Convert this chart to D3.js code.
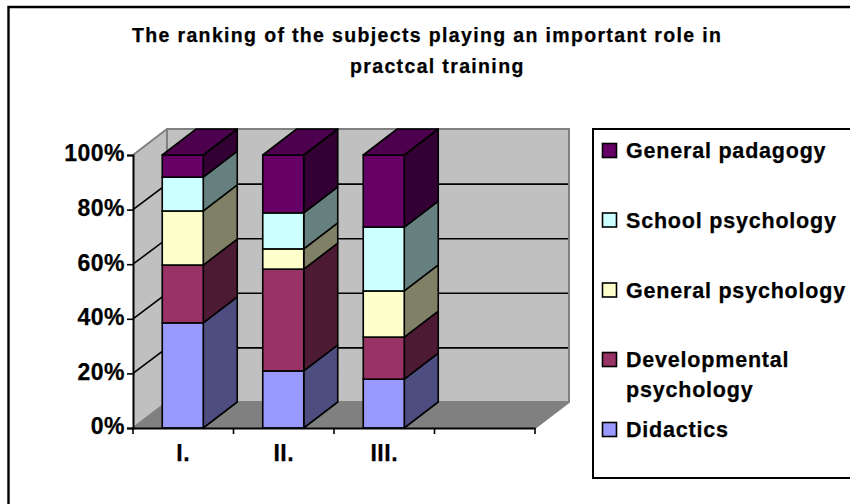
<!DOCTYPE html>
<html><head><meta charset="utf-8">
<script src="https://cdn.jsdelivr.net/npm/d3@7"></script>
<style>html,body{margin:0;padding:0;background:#fff}svg{display:block}text{font-family:"Liberation Sans",Arial,sans-serif;font-weight:bold;fill:#000;stroke:#000;stroke-width:0.25px}</style>
</head><body><div id="c"></div>
<script>
const categories = ["I.", "II.", "III.", ""];
const seriesNames = ["Didactics", "Developmental psychology", "General psychology", "School psychology", "General padagogy"];
const didactics = [38.5, 20.9, 17.9, 0];
const developmental = [21.2, 37.3, 15.4, 0];
const generalPsychology = [19.8, 7.4, 16.9, 0];
const schoolPsychology = [12.4, 13.2, 23.4, 0];
const generalPadagogy = [8.1, 21.2, 26.4, 0];
const yTicks = [0, 20, 40, 60, 80, 100];
const colors = ["#9999ff", "#993366", "#ffffcc", "#ccffff", "#660066"];
const sideColors = ["#4d4d80", "#4d1a33", "#808066", "#668080", "#330033"];
const topColor = "#4d004d";
const titleLines = ["The ranking of the subjects playing an important role in", "practcal training"];
const legendEntries = [
  {i: 4, lines: ["General padagogy"], y: 150.5},
  {i: 3, lines: ["School psychology"], y: 220},
  {i: 2, lines: ["General psychology"], y: 290},
  {i: 1, lines: ["Developmental", "psychology"], y: 359.5},
  {i: 0, lines: ["Didactics"], y: 429.5}
];

const W = 850, H = 504;
const svg = d3.select("#c").append("svg").attr("width", W).attr("height", H);
const series = [didactics, developmental, generalPsychology, schoolPsychology, generalPadagogy];
const x = d3.scaleBand().domain(categories).range([133, 535]).padding(0);
const y = d3.scaleLinear().domain([0, 100]).range([428, 155]);
const dx = 34, dy = -26;
const pts = a => a.map(p => p.join(",")).join(" ");

// outer frame (only left and top edges are in the crop)
svg.append("path").attr("d", "M8.5,504V7H850").attr("fill", "none").attr("stroke", "#000").attr("stroke-width", 2.4);

// walls and floor
const x0 = x.range()[0], x1 = x.range()[1], y0 = y(0), yT = y(100);
svg.append("polygon").attr("points", pts([[x0,y0],[x0+dx,y0+dy],[x1+dx,y0+dy],[x1,y0]])).attr("fill", "#808080");
svg.append("polygon").attr("points", pts([[x0,y0],[x0,yT],[x0+dx,yT+dy],[x0+dx,y0+dy]])).attr("fill", "#c0c0c0");
svg.append("rect").attr("x", x0+dx).attr("y", yT+dy).attr("width", x1-x0).attr("height", y0-yT).attr("fill", "#c0c0c0");
svg.append("path").attr("d", `M${x0},${yT}L${x0+dx},${yT+dy}H${x1+dx}V${y0+dy}L${x1},${y0}M${x0+dx},${yT+dy}V${y0+dy}H${x1+dx}M${x0},${y0}L${x0+dx},${y0+dy}`)
  .attr("fill", "none").attr("stroke", "#808080").attr("stroke-width", 2);

// gridlines
yTicks.filter(t => t > 0 && t < 100).forEach(t => {
  svg.append("path").attr("d", `M${x0},${y(t)}L${x0+dx},${y(t)+dy+0.5}H${x1+dx-1}`).attr("fill", "none").attr("stroke", "#000").attr("stroke-width", 1.6);
});

// bars
const barW = 41, off = (x.bandwidth() - barW) / 2;
categories.forEach((c, ci) => {
  if (!c) return;
  let cum = 0;
  const bx = x(c) + off - 0.5;
  series.forEach((s, si) => {
    const a = y(cum), b = y(cum + s[ci]);
    cum += s[ci];
    svg.append("polygon").attr("points", pts([[bx+barW,a],[bx+barW,b],[bx+barW+dx,b+dy],[bx+barW+dx,a+dy]]))
      .attr("fill", sideColors[si]).attr("stroke", "#000").attr("stroke-width", 1.6).attr("stroke-linejoin", "round");
    svg.append("rect").attr("x", bx).attr("y", b).attr("width", barW).attr("height", a-b)
      .attr("fill", colors[si]).attr("stroke", "#000").attr("stroke-width", 1.6);
  });
  const t = y(cum);
  svg.append("polygon").attr("points", pts([[bx,t],[bx+barW,t],[bx+barW+dx,t+dy],[bx+dx,t+dy]]))
    .attr("fill", topColor).attr("stroke", "#000").attr("stroke-width", 1.6).attr("stroke-linejoin", "round");
});

// axes
const yAxis = d3.axisLeft(y).tickValues(yTicks).tickFormat(d => d + "%").tickSize(6).tickPadding(2);
const gy = svg.append("g").attr("transform", `translate(${x0},0)`).call(yAxis);
const xAxis = d3.axisBottom(x).tickSize(0).tickPadding(18);
const gx = svg.append("g").attr("transform", `translate(0,${y0})`).call(xAxis);
const xTickVals = [0, 1, 2, 3, 4].map(i => x0 + i * x.step());
gx.selectAll(".mark").data(xTickVals).enter().append("line").attr("class", "mark")
  .attr("x1", d => d).attr("x2", d => d).attr("y1", 0).attr("y2", 6).attr("stroke", "#000").attr("stroke-width", 1.6);
[gy, gx].forEach(g => {
  g.select(".domain").attr("stroke", "#000").attr("stroke-width", 2);
  g.selectAll(".tick line").attr("stroke", "#000").attr("stroke-width", 1.6);
  g.selectAll("text").style("font-family", '"Liberation Sans"').style("font-weight", "bold").style("font-size", "23px").style("letter-spacing", "0.5px").attr("fill", "#000");
});
gy.selectAll(".tick text").attr("dy", "0.26em");
gx.selectAll(".tick text").attr("y", 17);

// title
svg.selectAll(".title").data(titleLines).enter().append("text").attr("class", "title")
  .attr("x", (d, i) => i === 0 ? 132 : 350).attr("y", (d, i) => 42 + i * 31)
  .style("font-size", "19.5px").style("letter-spacing", "1.35px").text(d => d);

// legend
svg.append("path").attr("d", `M850,129H593V478H850`).attr("fill", "#fff").attr("stroke", "#000").attr("stroke-width", 2);
legendEntries.forEach(e => {
  svg.append("rect").attr("x", 602.5).attr("y", e.y - 7).attr("width", 14).attr("height", 14)
    .attr("fill", colors[e.i]).attr("stroke", "#000").attr("stroke-width", 1.6);
  e.lines.forEach((l, k) => {
    svg.append("text").attr("x", 626).attr("y", e.y + 7.5 + k * 30).style("font-size", "21.5px").style("letter-spacing", "0.8px").text(l);
  });
});
</script></body></html>
